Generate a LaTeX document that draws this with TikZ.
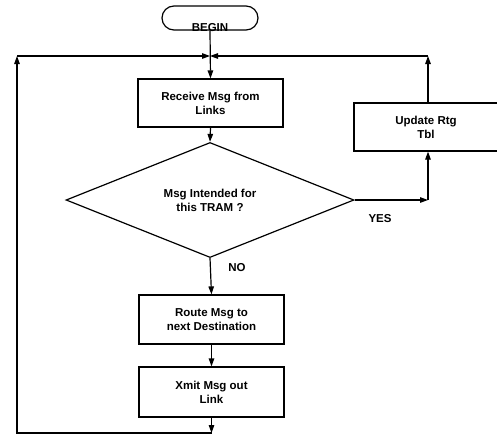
\documentclass[tikz,border=0pt]{standalone}
\usepackage{fontspec}
\setmainfont{Liberation Sans}
\usetikzlibrary{arrows.meta,shapes.geometric}
\begin{document}
\begin{tikzpicture}[x=1pt,y=-1pt,
  txt/.style={font=\bfseries\fontsize{11.5}{14}\selectfont},
  box/.style={txt,draw,line width=1.2pt,minimum width=145pt,minimum height=48pt,align=center,inner sep=0pt},
  term/.style={txt,draw,line width=1.2pt,rounded corners=12pt,minimum width=96pt,minimum height=24pt,inner sep=0pt},
  dec/.style={txt,draw,line width=1.2pt,diamond,minimum width=288pt,minimum height=96pt,align=center,inner sep=0pt},
  arr/.style={line width=1.2pt,-{Triangle[length=8pt,width=5.5pt]}},
  ln/.style={line width=1.2pt}]
\useasboundingbox (0,0) rectangle (497,444);
\clip (0,0) rectangle (497,444);
\node[term] (begin) at (210,18) {\raisebox{-13.5pt}[0pt][0pt]{BEGIN}};
\node[box] (rcv) at (210.5,103) {Receive Msg from\\Links};
\node[dec] (dia) at (210,200) {Msg Intended for\\this TRAM ?};
\node[box,minimum width=152pt] (upd) at (430,127) {\hspace*{-8pt}Update Rtg\\\hspace*{-8pt}Tbl};
\node[box,minimum height=49pt] (route) at (211.5,319.5) {Route Msg to\\next Destination};
\node[box,minimum height=50pt] (xmit) at (211.5,392) {Xmit Msg out\\Link};
\node[txt] (yes) at (380,219) {YES};
\node[txt] (no) at (237,268) {NO};
\coordinate (J) at (210,56);
\coordinate (lt) at (17,56);
\coordinate (rt) at (428,56);
\coordinate (yc) at (428,200);
\coordinate (bj) at (211.5,433);
\draw[arr] (begin.south) -- (rcv.north);
\draw[arr] (rcv.south) -- (dia.north);
\draw[arr] (dia.south) -- (route.north);
\draw[arr] (route.south) -- (xmit.north);
\draw[arr] (xmit.south) -- (bj);
\draw[arr] (bj) -| (lt);
\draw[arr] (lt) -- (J);
\draw[arr] (dia.east) -- (yc);
\draw[arr] (yc) -- (yc |- upd.south);
\draw[arr] (yc |- upd.north) -- (rt);
\draw[arr] (rt) -- (J);
\end{tikzpicture}
\end{document}
